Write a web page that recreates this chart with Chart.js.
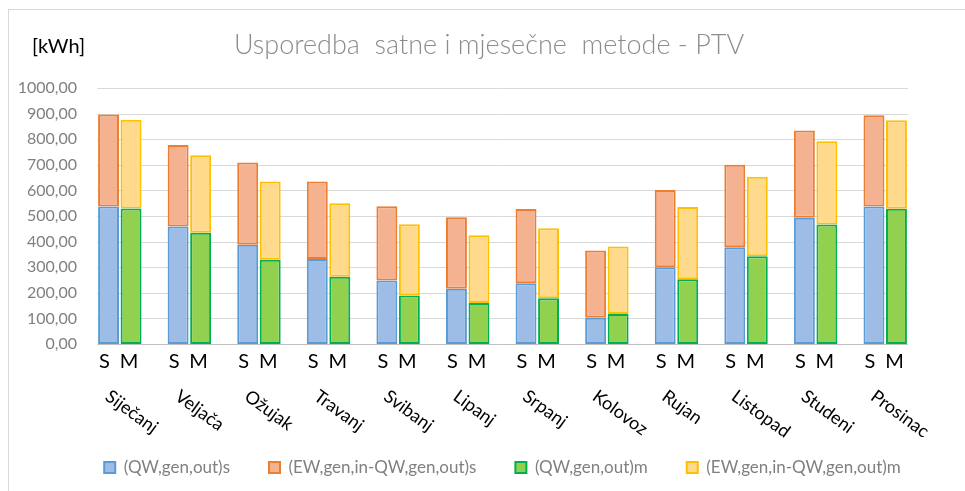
<!DOCTYPE html>
<html>
<head>
<meta charset="utf-8">
<title>Usporedba satne i mjesečne metode - PTV</title>
<script src="https://cdn.jsdelivr.net/npm/chart.js@4"></script>
<style>
    html, body { margin: 0; padding: 0; background: #fff; }
    #wrap { position: relative; width: 965px; height: 491px; }
    #frame { position: absolute; left: 8px; top: 9px; right: 0; bottom: 0;
             border-top: 1px solid #d9d9d9; border-left: 1px solid #d9d9d9; pointer-events: none; }
    canvas { display: block; }
</style>
</head>
<body>
<div id="wrap">
    <canvas id="barChart" width="965" height="491"></canvas>
    <div id="frame"></div>
</div>
<script>
// Months (x categories)
const months = ['Siječanj', 'Veljača', 'Ožujak', 'Travanj', 'Svibanj', 'Lipanj',
                'Srpanj', 'Kolovoz', 'Rujan', 'Listopad', 'Studeni', 'Prosinac'];

// Hourly method (S)
const qwGenOutS = [537, 459, 388, 332, 248, 216, 237, 103, 300, 378, 493, 537];
const ewMinusQwS = [359, 318, 321, 303, 290, 279, 290, 262, 302, 322, 341, 357];

// Monthly method (M)
const qwGenOutM = [529, 435, 329, 263, 189, 160, 179, 117, 253, 343, 467, 528];
const ewMinusQwM = [347, 302, 306, 287, 279, 265, 273, 264, 282, 310, 325, 346];

// Y axis ticks
const yTicks = [0, 100, 200, 300, 400, 500, 600, 700, 800, 900, 1000];

const CAT_PCT = 0.647;
const FONT = 'Lato, "Open Sans", sans-serif';

function halfGap(chart) {
    const x = chart.scales.x;
    const catWidth = (x.right - x.left) / months.length;
    return catWidth * (1 - CAT_PCT) / 2;
}

// Center the legend under the bar groups instead of the whole canvas
const legendShift = {
    id: 'legendShift',
    afterLayout(chart) {
        const area = chart.chartArea;
        const lg = chart.legend;
        const d = (area.left + area.right) / 2 - (lg.left + lg.right) / 2;
        lg.left += d;
        lg.right += d;
    }
};

// Gridlines only span the bar groups, like the original
const gridPlugin = {
    id: 'gridLines',
    beforeDatasetsDraw(chart) {
        const ctx = chart.ctx;
        const y = chart.scales.y;
        const area = chart.chartArea;
        const hg = halfGap(chart);
        ctx.save();
        ctx.lineWidth = 1;
        yTicks.forEach(v => {
            const py = Math.round(y.getPixelForValue(v)) + 0.5;
            ctx.strokeStyle = v === 0 ? '#bfbfbf' : '#d9d9d9';
            ctx.beginPath();
            ctx.moveTo(area.left + hg, py);
            ctx.lineTo(area.right - hg, py);
            ctx.stroke();
        });
        ctx.restore();
    }
};

// Title, unit, S/M labels and slanted month names
const labelPlugin = {
    id: 'labels',
    afterDraw(chart) {
        const ctx = chart.ctx;
        const area = chart.chartArea;
        const metaS = chart.getDatasetMeta(0);
        const metaM = chart.getDatasetMeta(2);
        ctx.save();

        ctx.fillStyle = '#8c8c8c';
        ctx.font = '300 27px ' + FONT;
        ctx.textAlign = 'center';
        ctx.textBaseline = 'middle';
        ctx.fillText('Usporedba  satne i mjesečne  metode - PTV', 489, 45);

        ctx.fillStyle = '#000';
        ctx.font = '20px ' + FONT;
        ctx.textAlign = 'left';
        ctx.fillText('[kWh]', 32, 47);

        months.forEach((m, i) => {
            const xs = metaS.data[i].x;
            const xm = metaM.data[i].x;
            ctx.fillStyle = '#000';
            ctx.font = '20px ' + FONT;
            ctx.textAlign = 'center';
            ctx.textBaseline = 'middle';
            ctx.fillText('S', xs - 4, area.bottom + 18);
            ctx.fillText('M', xm - 2, area.bottom + 18);

            const cx = (xs + xm) / 2;
            ctx.save();
            ctx.translate(cx - 7, area.bottom + 43);
            ctx.rotate(36 * Math.PI / 180);
            ctx.font = '18px ' + FONT;
            ctx.textAlign = 'left';
            ctx.textBaseline = 'top';
            ctx.fillText(m, 0, 0);
            ctx.restore();
        });
        ctx.restore();
    }
};

document.addEventListener('DOMContentLoaded', function() {
    const ctx = document.getElementById('barChart').getContext('2d');

    const common = {
        borderWidth: 2,
        borderSkipped: false,
        categoryPercentage: CAT_PCT,
        barPercentage: 0.93
    };

    new Chart(ctx, {
        type: 'bar',
        data: {
            labels: months,
            datasets: [
                Object.assign({ label: '(QW,gen,out)s', data: qwGenOutS, stack: 'S',
                    backgroundColor: '#9dbde6', borderColor: '#5b9bd5' }, common),
                Object.assign({ label: '(EW,gen,in-QW,gen,out)s', data: ewMinusQwS, stack: 'S',
                    backgroundColor: '#f5b291', borderColor: '#ed7d31' }, common),
                Object.assign({ label: '(QW,gen,out)m', data: qwGenOutM, stack: 'M',
                    backgroundColor: '#92d050', borderColor: '#00b050' }, common),
                Object.assign({ label: '(EW,gen,in-QW,gen,out)m', data: ewMinusQwM, stack: 'M',
                    backgroundColor: '#ffd98c', borderColor: '#ffc000' }, common)
            ]
        },
        options: {
            responsive: false,
            animation: false,
            layout: {
                padding: { top: 88, right: 45, left: 0, bottom: 5 }
            },
            plugins: {
                title: { display: false },
                tooltip: { enabled: false },
                legend: {
                    position: 'bottom',
                    labels: {
                        boxWidth: 11,
                        boxHeight: 11,
                        padding: 39,
                        color: '#808080',
                        font: { family: FONT, size: 17 }
                    }
                }
            },
            scales: {
                x: {
                    stacked: true,
                    grid: { display: false },
                    border: { display: false },
                    ticks: { display: false },
                    afterFit: function(scale) { scale.height = 76; }
                },
                y: {
                    stacked: true,
                    min: 0,
                    max: 1000,
                    grid: { display: false },
                    border: { display: false },
                    afterFit: function(scale) { scale.width = 85; },
                    afterBuildTicks: function(scale) {
                        scale.ticks = yTicks.map(v => ({ value: v }));
                    },
                    ticks: {
                        color: '#808080',
                        padding: 0,
                        font: { family: FONT, size: 16 },
                        callback: function(value) {
                            return value.toFixed(2).replace('.', ',');
                        }
                    }
                }
            }
        },
        plugins: [legendShift, gridPlugin, labelPlugin]
    });
});
</script>
</body>
</html>
